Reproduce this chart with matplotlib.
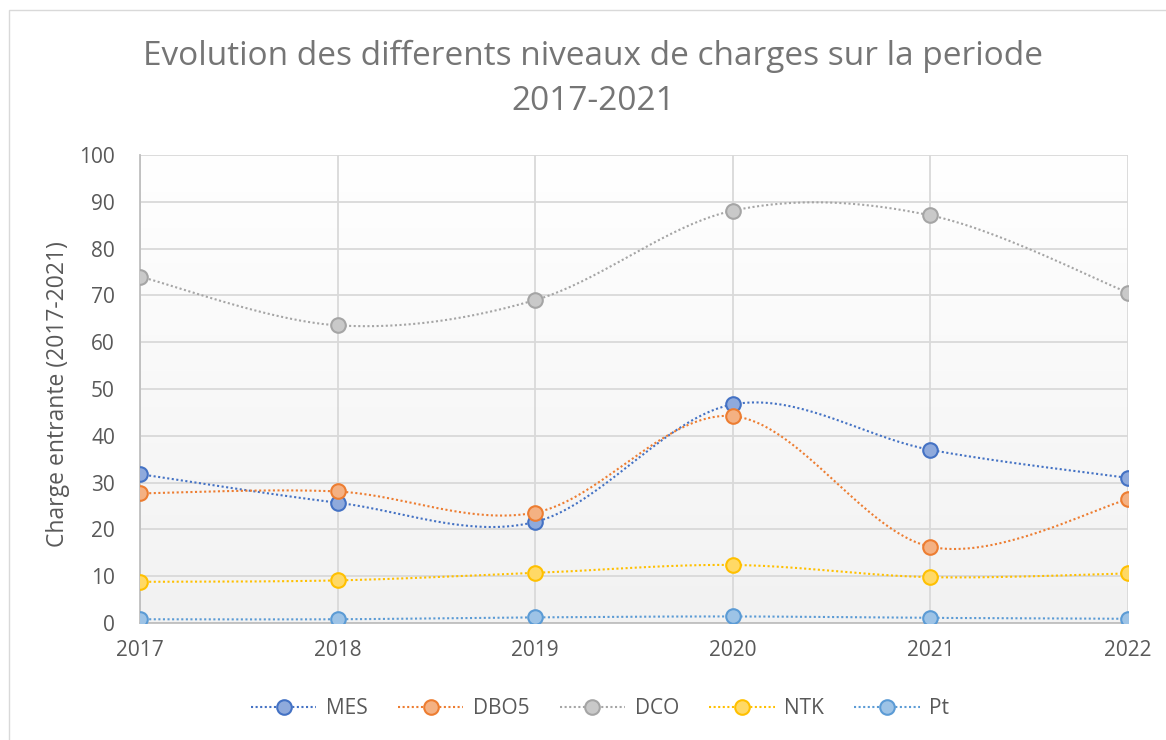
import numpy as np
import matplotlib
matplotlib.use("Agg")
import matplotlib.pyplot as plt
from matplotlib.patches import Rectangle
from matplotlib.lines import Line2D
from matplotlib.colors import LinearSegmentedColormap

years = [2017, 2018, 2019, 2020, 2021, 2022]
series_names = ["MES", "DBO5", "DCO", "NTK", "Pt"]
mes = [31.8, 25.7, 21.6, 46.7, 37.0, 31.0]
dbo5 = [27.7, 28.1, 23.6, 44.2, 16.3, 26.4]
dco = [74.0, 63.6, 69.0, 88.1, 87.1, 70.6]
ntk = [8.8, 9.1, 10.7, 12.4, 9.8, 10.6]
pt = [0.8, 0.8, 1.2, 1.4, 1.1, 0.9]

edge_colors = ["#4472C4", "#ED7D31", "#A5A5A5", "#FFC000", "#5B9BD5"]
face_colors = ["#8FAADC", "#F4B183", "#C9C9C9", "#FFD966", "#9DC3E6"]

title = "Evolution des differents niveaux de charges sur la periode\n2017-2021"
ylabel = "Charge entrante (2017-2021)"

plt.rcParams['font.family'] = ['Open Sans', 'DejaVu Sans']


def smooth(xs, ys, n=40):
    """Excel-like Bezier smoothing through the data points."""
    xs = np.asarray(xs, float)
    ys = np.asarray(ys, float)
    P = np.column_stack([xs, ys])
    out = []
    m = len(P)
    for i in range(m - 1):
        p0 = P[i - 1] if i > 0 else P[i]
        p1 = P[i]
        p2 = P[i + 1]
        p3 = P[i + 2] if i + 2 < m else P[i + 1]
        c1 = p1 + (p2 - p0) / 6.0
        c2 = p2 - (p3 - p1) / 6.0
        t = np.linspace(0, 1, n)[:, None]
        seg = ((1 - t) ** 3) * p1 + 3 * ((1 - t) ** 2) * t * c1 + 3 * (1 - t) * t ** 2 * c2 + t ** 3 * p2
        if i > 0:
            seg = seg[1:]
        out.append(seg)
    out = np.vstack(out)
    return out[:, 0], out[:, 1]


W, H = 1166, 740
fig = plt.figure(figsize=(W / 100, H / 100), dpi=100)
fig.patch.set_facecolor("white")

left, right, top, bottom = 140, 1128, 155, 623
ax = fig.add_axes([left / W, 1 - bottom / H, (right - left) / W, (bottom - top) / H])

# gradient background
grad = np.linspace(1.0, 0.0, 256)[:, None]
cmap = LinearSegmentedColormap.from_list("g", ["#f2f2f2", "#ffffff"])
ax.imshow(grad, cmap=cmap, aspect="auto", extent=[0, 1, 0, 1],
          transform=ax.transAxes, zorder=0, origin="upper")
ax.set_facecolor("white")

data = [mes, dbo5, dco, ntk, pt]
for name, vals, ec, fc in zip(series_names, data, edge_colors, face_colors):
    sx, sy = smooth(years, vals)
    ax.plot(sx, sy, linestyle=(0, (1, 1.2)), color=ec, linewidth=1.5, zorder=3)
    ax.plot(years, vals, linestyle="none", marker="o", markersize=10.5,
            markerfacecolor=fc, markeredgecolor=ec, markeredgewidth=1.5, zorder=4)

ax.set_xlim(2017, 2022)
ax.set_ylim(0, 100)
ax.set_xticks(years)
ax.set_yticks(np.arange(0, 101, 10))
ax.grid(True, color="#d9d9d9", linewidth=1.3)
ax.set_axisbelow(True)
for s in ["top", "right"]:
    ax.spines[s].set_visible(False)
for s in ["left", "bottom"]:
    ax.spines[s].set_color("#bfbfbf")
    ax.spines[s].set_linewidth(1.3)
ax.tick_params(length=0, labelsize=15, labelcolor="#595959")
ax.tick_params(axis="x", pad=12)
ax.tick_params(axis="y", pad=18)
ax.set_ylabel(ylabel, fontsize=16.5, color="#595959")
ax.yaxis.set_label_coords(-(left - 70) / (right - left), 0.49)

fig.text(593 / W, 1 - 79 / H, title, ha="center", va="center", fontsize=24,
         color="#757575", linespacing=1.5)

handles = [Line2D([0], [0], linestyle=(0, (1, 1.2)), color=ec, linewidth=1.5,
                  marker="o", markersize=10.5, markerfacecolor=fc,
                  markeredgecolor=ec, markeredgewidth=1.5)
           for ec, fc in zip(edge_colors, face_colors)]
leg = fig.legend(handles, series_names, loc="center", bbox_to_anchor=(600 / W, 1 - 709 / H),
                 ncol=5, frameon=False, fontsize=15, handlelength=3.15,
                 columnspacing=1.45, handletextpad=0.45)
for t in leg.get_texts():
    t.set_color("#595959")

fig.patches.append(Rectangle((9 / W, -0.01), 1.1, 1 - 10 / H + 0.01, transform=fig.transFigure,
                             fill=False, edgecolor="#d9d9d9", linewidth=1.0))

fig.savefig("out.png", dpi=100)
